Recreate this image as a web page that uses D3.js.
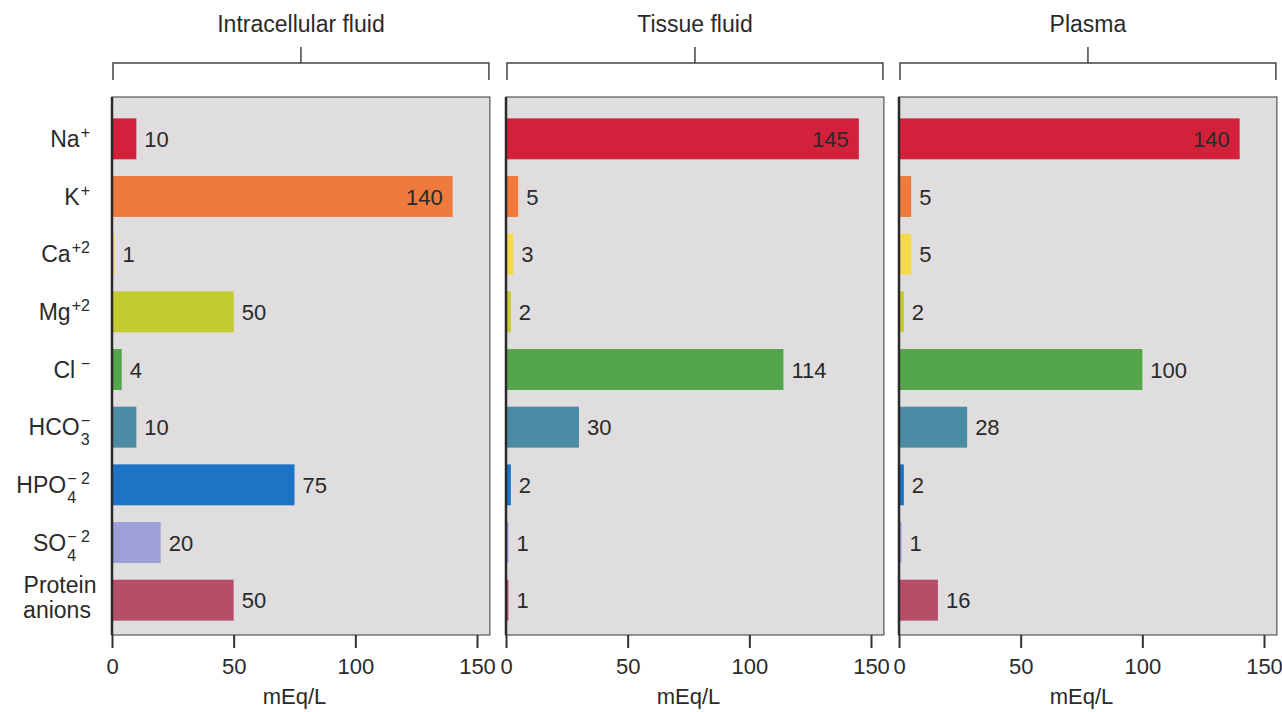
<!DOCTYPE html>
<html>
<head>
<meta charset="utf-8">
<script src="https://cdn.jsdelivr.net/npm/d3@7"></script>
<style>
  body { margin: 0; background: #fff; }
  text { font-family: "Liberation Sans", Arial, Helvetica, sans-serif; fill: #2a2a2a; }
</style>
</head>
<body>
<div id="chart"></div>
<script>
// Ion concentrations in body fluids (mEq/L)
var ions = ["Na", "K", "Ca", "Mg", "Cl", "HCO3", "HPO4", "SO4", "Protein"];
var ionBase = ["Na", "K", "Ca", "Mg", "Cl", "HCO", "HPO", "SO", ""];
var ionSub = ["", "", "", "", "", "3", "4", "4", ""];
var ionSup = ["+", "+", "+2", "+2", " \u2212", "\u2212", "\u2212 2", "\u2212 2", ""];
var ionColors = ["#d3213b", "#ee7b3d", "#f6d84c", "#c3cb2e", "#55a64b", "#4b8ba4", "#1d74c6", "#9c9fd8", "#b54f69"];

var panelTitles = ["Intracellular fluid", "Tissue fluid", "Plasma"];
var intracellular = [10, 140, 1, 50, 4, 10, 75, 20, 50];
var tissue = [145, 5, 3, 2, 114, 30, 2, 1, 1];
var plasma = [140, 5, 5, 2, 100, 28, 2, 1, 16];
var panelValues = [intracellular, tissue, plasma];
var tickValues = [0, 50, 100, 150];

var svgWidth = 1282;
var svgHeight = 712;

var panelLefts = [112, 506, 899];
var plotTop = 97;
var plotBottom = 635;
var unitWidth = 365; // pixels for 0..150

var svg = d3.select("#chart")
    .append("svg")
    .attr("width", svgWidth)
    .attr("height", svgHeight);

var yScale = d3.scaleBand()
    .domain(ions)
    .range([110, 629])
    .paddingInner(0.29)
    .paddingOuter(0.145);

panelValues.forEach(function(values, p) {
    var x0 = panelLefts[p];
    var xScale = d3.scaleLinear()
        .domain([0, 150])
        .range([x0, x0 + unitWidth]);
    var xRight = xScale(155.3);

    var g = svg.append("g");

    // bracket + title
    var mid = (x0 + xRight) / 2;
    g.append("path")
        .attr("d", `M${x0 + 1},80 V63 H${xRight - 1} V80 M${mid},63 V47`)
        .attr("fill", "none")
        .attr("stroke", "#444")
        .attr("stroke-width", 1.5);
    g.append("text")
        .attr("x", mid)
        .attr("y", 32)
        .attr("text-anchor", "middle")
        .style("font-size", "23px")
        .text(panelTitles[p]);

    // panel background
    g.append("rect")
        .attr("x", x0)
        .attr("y", plotTop)
        .attr("width", xRight - x0)
        .attr("height", plotBottom - plotTop)
        .attr("fill", "#dfdddd")
        .attr("stroke", "#555")
        .attr("stroke-width", 1.2);

    // bars
    g.selectAll(".bar")
        .data(values)
        .enter()
        .append("rect")
        .attr("class", "bar")
        .attr("x", xScale(0))
        .attr("y", (d, i) => yScale(ions[i]))
        .attr("width", d => xScale(d) - xScale(0))
        .attr("height", yScale.bandwidth())
        .attr("fill", (d, i) => ionColors[i]);

    // value labels
    g.selectAll(".val")
        .data(values)
        .enter()
        .append("text")
        .attr("class", "val")
        .attr("x", d => d > 130 ? xScale(d) - 10 : xScale(d) + 8)
        .attr("y", (d, i) => yScale(ions[i]) + yScale.bandwidth() / 2 + 8)
        .attr("text-anchor", d => d > 130 ? "end" : "start")
        .style("font-size", "22px")
        .text(d => d);

    // left axis line
    g.append("line")
        .attr("x1", x0).attr("x2", x0)
        .attr("y1", plotTop).attr("y2", plotBottom)
        .attr("stroke", "#2a2a2a")
        .attr("stroke-width", 2.5);

    // bottom axis
    var axis = g.append("g")
        .attr("transform", `translate(0, ${plotBottom})`)
        .call(d3.axisBottom(xScale).tickValues(tickValues).tickSize(13).tickPadding(10));
    axis.select(".domain").remove();
    axis.selectAll(".tick line").attr("stroke", "#333").attr("stroke-width", 2);
    axis.selectAll(".tick text")
        .style("font-size", "22px")
        .style("font-family", "'Liberation Sans', Arial, sans-serif")
        .attr("fill", "#2a2a2a");

    g.append("text")
        .attr("x", xScale(75))
        .attr("y", 704)
        .attr("text-anchor", "middle")
        .style("font-size", "22px")
        .text("mEq/L");
});

// category labels with stacked sub/superscripts
ions.forEach(function(ion, i) {
    var cy = yScale(ion) + yScale.bandwidth() / 2;
    var lg = svg.append("g");
    if (ion === "Protein") {
        lg.append("text").attr("x", 60).attr("y", cy - 7).attr("text-anchor", "middle")
            .style("font-size", "23px").text("Protein");
        lg.append("text").attr("x", 57).attr("y", cy + 18).attr("text-anchor", "middle")
            .style("font-size", "23px").text("anions");
        return;
    }
    var base = lg.append("text")
        .attr("x", 0).attr("y", cy + 8)
        .style("font-size", "23px")
        .text(ionBase[i]);
    var w = base.node().getComputedTextLength() + 1;
    if (ionSub[i]) {
        lg.append("text")
            .attr("x", w).attr("y", cy + 18)
            .style("font-size", "16px")
            .text(ionSub[i]);
    }
    if (ionSup[i]) {
        lg.append("text")
            .attr("x", w).attr("y", cy - 1)
            .style("font-size", "16px")
            .style("white-space", "pre")
            .text(ionSup[i]);
    }
    var bb = lg.node().getBBox();
    var right = 90;
    lg.attr("transform", `translate(${right - bb.x - bb.width}, 0)`);
});
</script>
</body>
</html>
